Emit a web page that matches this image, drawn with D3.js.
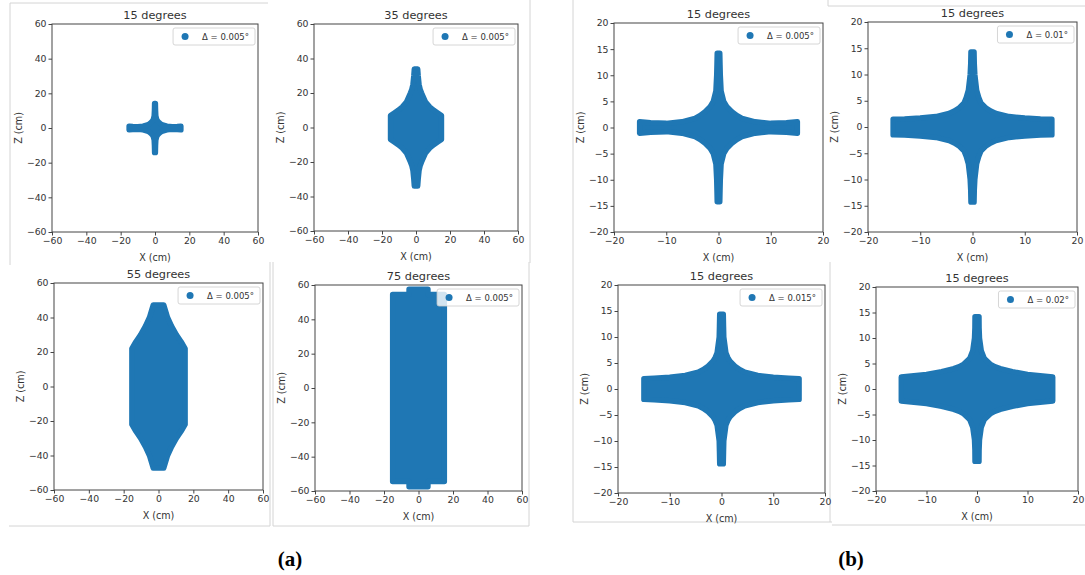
<!DOCTYPE html>
<html>
<head>
<meta charset="utf-8">
<script src="https://cdn.jsdelivr.net/npm/d3@7"></script>
<style>
  body { margin: 0; background: #fff; }
  svg text { font-family: "DejaVu Sans", sans-serif; fill: #333; }
</style>
</head>
<body>
<svg id="chart" width="1085" height="575"></svg>
<script>
// first-quadrant outline of each point cloud (marker centres), [x, z] in cm,
// from the top of the vertical arm down to the end of the horizontal arm
const deg15_d005 = [[0, 14.2], [0.25, 14.2], [0.3, 12], [0.35, 10], [0.5, 7], [1.0, 5], [1.6, 4], [2.6, 3], [3.5, 2.3], [4.5, 1.75], [7, 1.1], [10, 0.8], [13, 0.9], [15.1, 1.1], [15.1, 0]];
const deg35_d005 = [[0, 34], [1, 34], [1.3, 30], [1.8, 25], [2.5, 22], [3.3, 20], [5.5, 15], [8, 12], [10.5, 10], [13, 8.3], [15, 7], [15, 0]];
const deg55_d005 = [[0, 47.3], [3, 47.3], [4, 44], [5.2, 40], [7.5, 35], [10.3, 30], [13, 26], [15.3, 22], [15.3, 0]];
const deg75_d005 = [[0, 57.5], [5.5, 57.5], [5.5, 54.5], [15, 54.5], [15, 0]];
const deg15_d01 = [[0, 14.3], [0.3, 14.3], [0.35, 12], [0.45, 10], [0.8, 7], [1.2, 5.6], [1.6, 4.6], [2.6, 3.6], [3.5, 3.05], [4.5, 2.6], [7, 2.0], [10, 1.72], [13, 1.55], [15.2, 1.5], [15.2, 0]];
const deg15_d015 = [[0, 14.4], [0.35, 14.4], [0.4, 12], [0.45, 10], [0.85, 7], [1.2, 6.1], [1.6, 5.4], [2.6, 4.4], [3.5, 3.75], [4.5, 3.25], [7, 2.6], [10, 2.25], [13, 2.1], [15, 2.0], [15, 0]];
const deg15_d02 = [[0, 14.2], [0.4, 14.2], [0.42, 12], [0.5, 10], [0.85, 7.5], [1.45, 6], [2.6, 4.9], [3.5, 4.4], [4.6, 4], [7, 3.4], [10, 2.85], [13, 2.55], [15, 2.35], [15, 0]];

const ticksA = [-60, -40, -20, 0, 20, 40, 60];
const ticksBx = [-20, -10, 0, 10, 20];
const ticksBy = [-20, -15, -10, -5, 0, 5, 10, 15, 20];

const panels = [
  { title: "15 degrees", delta: "0.005", outline: deg15_d005, dom: 60, xt: ticksA, yt: ticksA, box: [52, 24, 206, 208] },
  { title: "35 degrees", delta: "0.005", outline: deg35_d005, dom: 60, xt: ticksA, yt: ticksA, box: [314, 24, 204, 207] },
  { title: "55 degrees", delta: "0.005", outline: deg55_d005, dom: 60, xt: ticksA, yt: ticksA, box: [54, 283, 209, 207] },
  { title: "75 degrees", delta: "0.005", outline: deg75_d005, dom: 60, xt: ticksA, yt: ticksA, box: [315, 285, 207, 206] },
  { title: "15 degrees", delta: "0.005", outline: deg15_d005, dom: 20, xt: ticksBx, yt: ticksBy, box: [614, 23, 209, 209] },
  { title: "15 degrees", delta: "0.01", outline: deg15_d01, dom: 20, xt: ticksBx, yt: ticksBy, box: [868, 22, 209, 210] },
  { title: "15 degrees", delta: "0.015", outline: deg15_d015, dom: 20, xt: ticksBx, yt: ticksBy, box: [618, 285, 207, 208] },
  { title: "15 degrees", delta: "0.02", outline: deg15_d02, dom: 20, xt: ticksBx, yt: ticksBy, box: [876, 287, 202, 204] }
];

const blue = "#1f77b4";
const svg = d3.select("#chart");

// light frames of the pasted screenshots
const frames = [
  [10, 3, 268, 3], [10, 3, 10, 265], [530, 0, 530, 263],
  [9, 526, 270, 526], [270, 262, 270, 526], [273, 262, 273, 526], [273, 526, 529, 526], [529, 262, 529, 526],
  [573, 0, 573, 522], [573, 522, 832, 522], [832, 525, 1085, 525], [830, 262, 830, 522],
  [828, 6, 1085, 6], [828, 0, 828, 6]
];
svg.selectAll(".frame").data(frames).enter().append("line")
  .attr("x1", d => d[0]).attr("y1", d => d[1]).attr("x2", d => d[2]).attr("y2", d => d[3])
  .attr("stroke", "#d4d4d4").attr("stroke-width", 1);

function mirror(q) {
  const pts = [
    ...q,
    ...q.slice().reverse().map(([x, z]) => [x, -z]),
    ...q.map(([x, z]) => [-x, -z]),
    ...q.slice().reverse().map(([x, z]) => [-x, z])
  ];
  return pts.filter((p, i) => {
    const n = pts[(i + 1) % pts.length];
    return !(p[0] === n[0] && p[1] === n[1]);
  });
}

panels.forEach((p, i) => {
  const [left, top, w, h] = p.box;
  const x = d3.scaleLinear().domain([-p.dom, p.dom]).range([left, left + w]);
  const y = d3.scaleLinear().domain([-p.dom, p.dom]).range([top + h, top]);
  const g = svg.append("g");

  g.append("clipPath").attr("id", "clip" + i)
    .append("rect").attr("x", left).attr("y", top).attr("width", w).attr("height", h);

  const line = d3.line()
    .x(d => x(d[0])).y(d => y(d[1]))
    .curve(d3.curveLinearClosed);

  g.append("path")
    .attr("clip-path", `url(#clip${i})`)
    .attr("d", line(mirror(p.outline)))
    .attr("fill", blue)
    .attr("stroke", blue)
    .attr("stroke-width", 5.4)
    .attr("stroke-linejoin", "round");

  const xAxis = g.append("g").attr("transform", `translate(0,${top + h})`)
    .call(d3.axisBottom(x).tickValues(p.xt).tickSize(3.5).tickPadding(2).tickSizeOuter(0));
  const yAxis = g.append("g").attr("transform", `translate(${left},0)`)
    .call(d3.axisLeft(y).tickValues(p.yt).tickSize(3.5).tickPadding(2).tickSizeOuter(0));
  [xAxis, yAxis].forEach(a => {
    a.select(".domain").remove();
    a.selectAll("line").attr("stroke", "#444");
    a.selectAll("text").attr("font-size", 9.3).attr("fill", "#333")
      .style("font-family", '"DejaVu Sans", sans-serif');
  });

  g.append("rect")
    .attr("x", left).attr("y", top).attr("width", w).attr("height", h)
    .attr("fill", "none").attr("stroke", "#444").attr("stroke-width", 1);

  g.append("text")
    .attr("x", left + w / 2).attr("y", top - 5.5)
    .attr("text-anchor", "middle").attr("font-size", 11.3)
    .text(p.title);

  g.append("text")
    .attr("x", left + w / 2).attr("y", top + h + 29)
    .attr("text-anchor", "middle").attr("font-size", 9.6)
    .text("X (cm)");

  g.append("text")
    .attr("transform", `translate(${left - 30},${top + h / 2}) rotate(-90)`)
    .attr("text-anchor", "middle").attr("font-size", 9.6)
    .text("Z (cm)");

  // legend
  const leg = g.append("g");
  const box = leg.append("rect");
  const txt = leg.append("text")
    .attr("font-size", 8.5)
    .text(`\u0394 = ${p.delta}\u00b0`);
  const tw = txt.node().getComputedTextLength();
  const lw = tw + 35, lh = 17;
  const lx = left + w - 3 - lw, ly = top + 4;
  box.attr("x", lx).attr("y", ly).attr("width", lw).attr("height", lh)
    .attr("rx", 2).attr("fill", "#fff").attr("fill-opacity", 0.8)
    .attr("stroke", "#cccccc").attr("stroke-width", 0.8);
  leg.append("circle").attr("cx", lx + 12).attr("cy", ly + lh / 2).attr("r", 3.5).attr("fill", blue);
  txt.attr("x", lx + 29).attr("y", ly + lh / 2 + 3);
});

svg.selectAll(".sub").data([["(a)", 290], ["(b)", 851]]).enter().append("text")
  .attr("x", d => d[1]).attr("y", 566)
  .attr("text-anchor", "middle")
  .style("font-family", '"Liberation Serif", "Times New Roman", serif')
  .style("font-weight", "bold").style("font-size", "21px").style("fill", "#000")
  .text(d => d[0]);
</script>
</body>
</html>
